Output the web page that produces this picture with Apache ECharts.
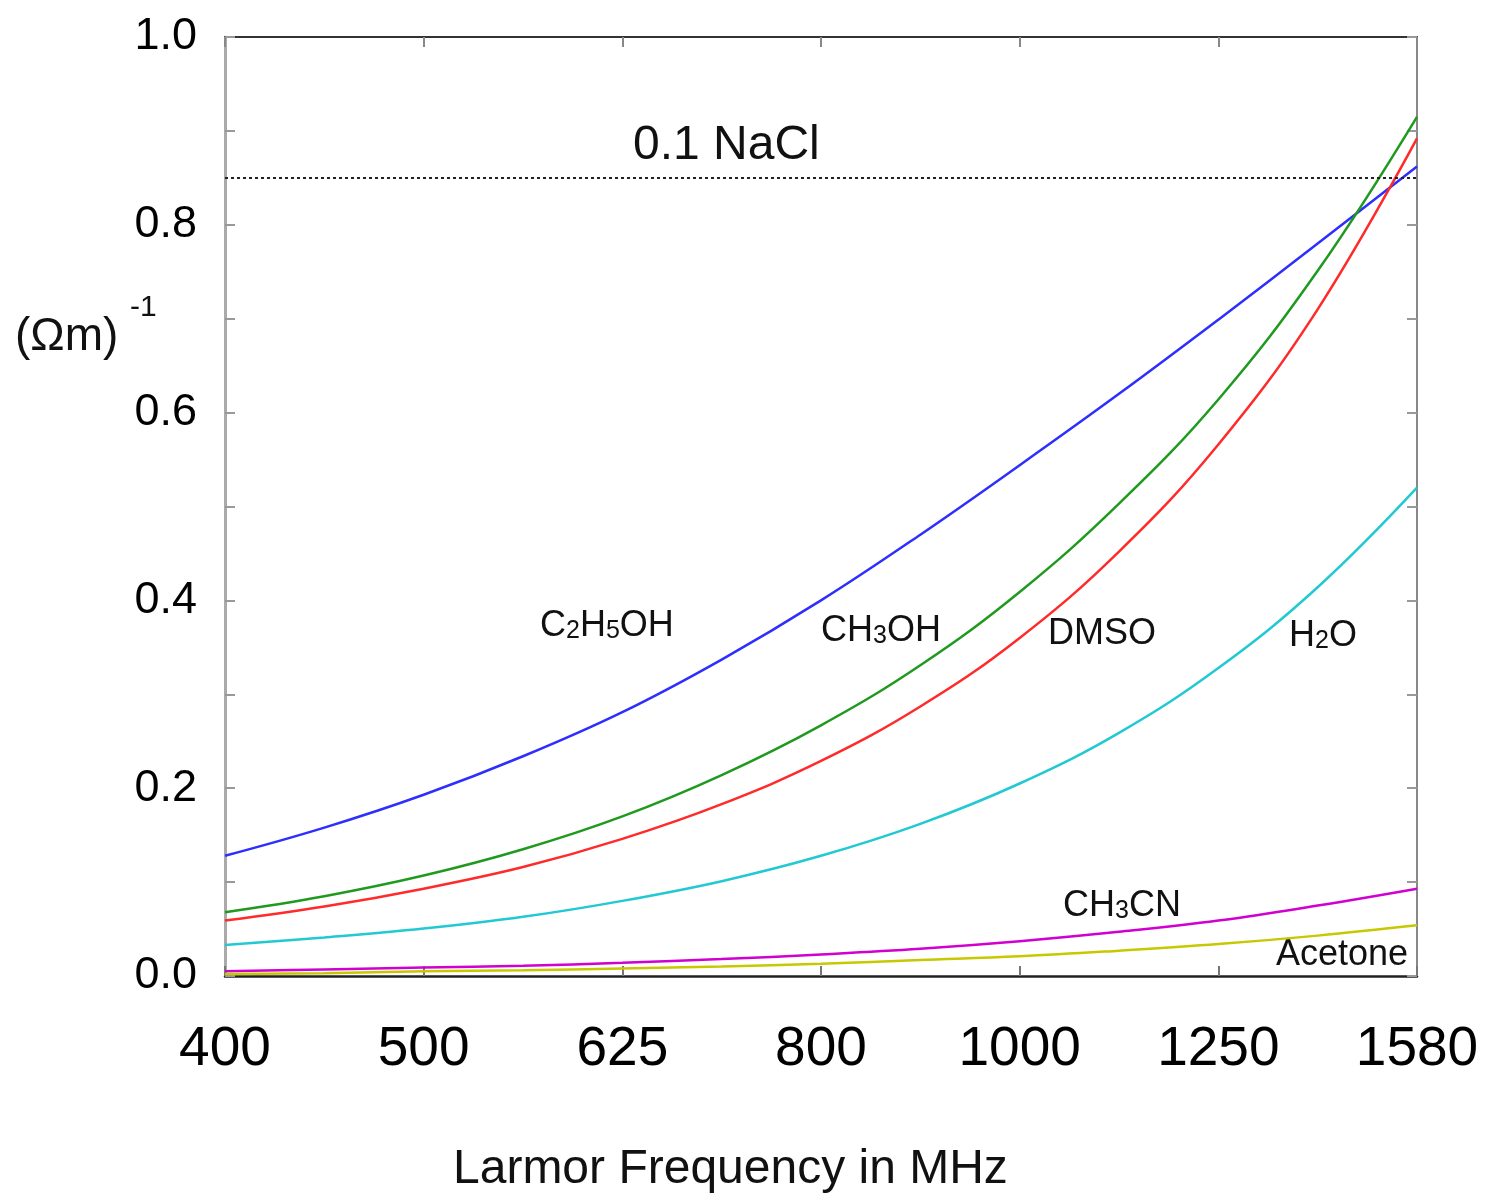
<!DOCTYPE html>
<html>
<head>
<meta charset="utf-8">
<script src="https://cdn.jsdelivr.net/npm/echarts@6/dist/echarts.min.js"></script>
<style>html,body{margin:0;padding:0;background:#fff}#c{width:1495px;height:1196px}</style>
</head>
<body>
<div id="c"></div>
<script>
// Tick labels of the (evenly spaced) frequency axis, in MHz
var freqLabels = ['400', '500', '625', '800', '1000', '1250', '1580'];
// Positions of the sampled points along the frequency axis (tick index; halves lie midway between ticks)
var xPos = [0, 0.5, 1, 1.5, 2, 2.5, 3, 3.5, 4, 4.5, 5, 5.5, 6];
// Conductivity (Ωm)^-1 at those positions
var c2h5oh  = [0.128, 0.158, 0.193, 0.234, 0.281, 0.337, 0.400, 0.470, 0.544, 0.620, 0.699, 0.780, 0.862];
var ch3oh   = [0.068, 0.085, 0.107, 0.135, 0.170, 0.214, 0.267, 0.331, 0.409, 0.503, 0.614, 0.751, 0.915];
var dmso    = [0.059, 0.074, 0.093, 0.116, 0.146, 0.183, 0.229, 0.287, 0.360, 0.452, 0.566, 0.710, 0.892];
var h2o     = [0.033, 0.041, 0.0505, 0.063, 0.080, 0.101, 0.128, 0.162, 0.205, 0.259, 0.328, 0.414, 0.520];
var ch3cn   = [0.005, 0.007, 0.009, 0.011, 0.014, 0.018, 0.023, 0.029, 0.037, 0.047, 0.059, 0.075, 0.093];
var acetone = [0.002, 0.003, 0.005, 0.006, 0.008, 0.010, 0.013, 0.017, 0.021, 0.027, 0.034, 0.043, 0.054];
var naclLevel = 0.85;
var yTickLabels = ['0.0', '0.2', '0.4', '0.6', '0.8', '1.0'];

var FONT = '"Liberation Sans", Arial, Helvetica, sans-serif';

function pairs(vals) { return xPos.map(function (x, i) { return [x, vals[i]]; }); }

function line(name, vals, color) {
  return {
    name: name, type: 'line', data: pairs(vals), smooth: 0.4,
    showSymbol: false, symbol: 'none',
    lineStyle: { color: color, width: 2.5 }, z: 3
  };
}

var chart = echarts.init(document.getElementById('c'), null, { renderer: 'canvas' });

var series = [
  line('C2H5OH', c2h5oh, '#2e2eff'),
  line('CH3OH', ch3oh, '#1f9a1f'),
  line('DMSO', dmso, '#ff2a2a'),
  line('H2O', h2o, '#22c9d2'),
  line('CH3CN', ch3cn, '#d000d0'),
  line('Acetone', acetone, '#c8c800')
];
series.push({
  type: 'line', data: [], silent: true,
  markLine: {
    silent: true, symbol: ['none', 'none'], label: { show: false },
    lineStyle: { type: [3, 3], color: '#222', width: 2 },
    data: [{ yAxis: naclLevel }]
  }
});

function subText(parts) {
  return parts.map(function (p) { return '{' + (p[1] ? 's' : 'a') + '|' + p[0] + '}'; }).join('');
}
var richSub = {
  a: { fontSize: 36, fontFamily: FONT, fill: '#111', color: '#111' },
  s: { fontSize: 25, fontFamily: FONT, fill: '#111', color: '#111', verticalAlign: 'bottom' }
};
function label(x, y, parts) {
  return {
    type: 'text', left: x, top: y,
    style: { text: subText(parts), rich: richSub, fill: '#111', font: '36px ' + FONT }
  };
}

var yLabelIdx = {};
yTickLabels.forEach(function (t) { yLabelIdx[t] = true; });

var option = {
  backgroundColor: '#fff',
  animation: false,
  grid: { left: 225, right: 78, top: 37, bottom: 220, containLabel: false },
  xAxis: [{
    type: 'value', min: 0, max: 6, interval: 1, position: 'bottom',
    axisLine: { show: true, onZero: false, lineStyle: { color: '#222', width: 2.5 } },
    axisTick: { show: true, inside: true, length: 10, lineStyle: { color: '#777', width: 2 } },
    splitLine: { show: false },
    axisLabel: {
      margin: 46, fontSize: 55, color: '#000', fontFamily: FONT,
      formatter: function (v) { return freqLabels[Math.round(v)] || ''; }
    }
  }, {
    type: 'value', min: 0, max: 6, interval: 1, position: 'top',
    axisLine: { show: true, onZero: false, lineStyle: { color: '#333', width: 2 } },
    axisTick: { show: true, inside: true, length: 10, lineStyle: { color: '#888', width: 2 } },
    axisLabel: { show: false }, splitLine: { show: false }
  }],
  yAxis: [{
    type: 'value', min: 0, max: 1, interval: 0.1, position: 'left',
    axisLine: { show: true, onZero: false, lineStyle: { color: '#aaa', width: 3 } },
    axisTick: { show: true, inside: true, length: 10, lineStyle: { color: '#999', width: 2 } },
    splitLine: { show: false },
    axisLabel: {
      margin: 28, fontSize: 45, color: '#000', fontFamily: FONT,
      formatter: function (v) { var t = v.toFixed(1); return yLabelIdx[t] ? t : ''; }
    }
  }, {
    type: 'value', min: 0, max: 1, interval: 0.1, position: 'right',
    axisLine: { show: true, onZero: false, lineStyle: { color: '#888', width: 2 } },
    axisTick: { show: true, inside: true, length: 10, lineStyle: { color: '#999', width: 2 } },
    axisLabel: { show: false }, splitLine: { show: false }
  }],
  series: series,
  graphic: [
    { type: 'text', left: 633, top: 122, style: { text: '0.1 NaCl', font: '48px ' + FONT, fill: '#111' } },
    label(540, 608, [['C', 0], ['2', 1], ['H', 0], ['5', 1], ['OH', 0]]),
    label(821, 613, [['CH', 0], ['3', 1], ['OH', 0]]),
    label(1048, 616, [['DMSO', 0]]),
    label(1289, 618, [['H', 0], ['2', 1], ['O', 0]]),
    label(1063, 888, [['CH', 0], ['3', 1], ['CN', 0]]),
    label(1276, 937, [['Acetone', 0]]),
    { type: 'text', left: 15, top: 314, style: { text: '(Ωm)', font: '46px ' + FONT, fill: '#111' } },
    { type: 'text', left: 130, top: 293, style: { text: '-1', font: '30px ' + FONT, fill: '#111' } },
    { type: 'text', left: 453, top: 1146, style: { text: 'Larmor Frequency in MHz', font: '48px ' + FONT, fill: '#111' } }
  ]
};
chart.setOption(option);
</script>
</body>
</html>
